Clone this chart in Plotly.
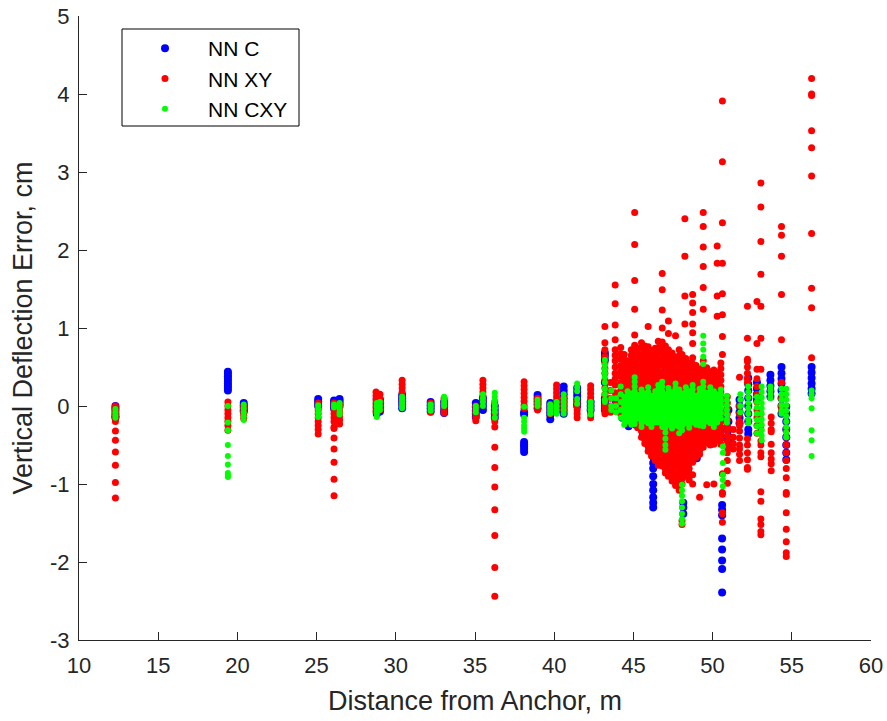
import plotly.graph_objects as go

# ---- data: (distance, [vertical deflection errors]) per measurement column ----
NN_C = [
    (12.3, [0.0, -0.03, -0.06, -0.1, -0.13, -0.15]),
    (19.4, [0.44, 0.41, 0.38, 0.35, 0.32, 0.29, 0.26, 0.23, 0.2]),
    (20.4, [0.04, 0.01, -0.02, -0.05, -0.07]),
    (25.1, [0.09, 0.06, 0.03, 0.0]),
    (26.1, [0.07, 0.04, 0.0, -0.03]),
    (26.45, [0.09, 0.06, 0.03, 0.0]),
    (28.8, [0.1, 0.05, 0.0, -0.05, -0.1]),
    (29.0, [0.08, 0.03, -0.02, -0.07]),
    (30.4, [0.14, 0.1, 0.06, 0.02, -0.03]),
    (32.2, [0.05, 0.01, -0.03, -0.07]),
    (33.05, [0.05, 0.0, -0.05, -0.09]),
    (35.05, [0.04, -0.01, -0.06, -0.1, -0.14]),
    (35.5, [0.1, 0.05, 0.0, -0.05]),
    (36.25, [0.0, -0.05, -0.1, -0.15]),
    (38.1, [-0.08, -0.11, -0.46, -0.49, -0.52, -0.55, -0.59]),
    (38.95, [0.14, 0.1, 0.06, 0.02, -0.03]),
    (39.75, [0.04, 0.0, -0.04, -0.08, -0.12, -0.17]),
    (40.6, [0.25, 0.2, 0.15, 0.1, 0.05, 0.0, -0.05, -0.1]),
    (41.45, [0.23, 0.18, 0.13, 0.08, 0.03, 0.0]),
    (42.3, [0.05, 0.0, -0.05]),
    (43.2, [0.68, 0.64, 0.59, 0.3, 0.1, 0.05, 0.0, -0.05]),
    (43.9, [0.05, 0.0, -0.06]),
    (44.3, [0.08, 0.0, -0.08, -0.15]),
    (44.7, [0.14, 0.04, -0.07, -0.17, -0.26]),
    (45.15, [0.22, 0.09, -0.02, -0.13, -0.24]),
    (45.6, [0.11, -0.01, -0.12, -0.23, -0.31, -0.37]),
    (46.0, [0.08, -0.06, -0.19, -0.33, -0.42]),
    (46.25, [-0.1, -0.3, -0.65, -0.73, -0.8, -0.9, -1.0, -1.08, -1.17, -1.24, -1.3]),
    (46.7, [0.13, -0.02, -0.16, -0.29, -0.4]),
    (47.2, [0.19, 0.04, -0.11, -0.24, -0.37]),
    (47.7, [0.09, -0.06, -0.19, -0.31]),
    (48.15, [0.0, -0.2, -0.35, -1.24, -1.3, -1.38]),
    (48.6, [0.1, -0.1, -0.25]),
    (49.0, [0.15, 0.0, -0.2, -0.4, -0.6, -0.67]),
    (49.5, [0.1, -0.05, -0.2, -0.3]),
    (50.0, [0.1, -0.05, -0.2, -0.35]),
    (50.6, [-0.15, -0.3, -0.4, -1.27, -1.33, -1.4, -1.7, -1.84, -1.98, -2.09, -2.39]),
    (51.0, [-0.05, -0.2, -0.3, -0.39, -0.45, -0.53]),
    (51.7, [0.08, 0.0, -0.08, -0.15, -0.22]),
    (52.25, [0.36, 0.28, 0.2, 0.1, 0.0, -0.1, -0.2, -0.3, -0.36]),
    (52.8, [0.3, 0.22, 0.15, 0.08]),
    (53.65, [0.4, 0.33, 0.26, 0.19, 0.12]),
    (54.35, [0.5, 0.42, 0.35, 0.29, 0.2, 0.1, 0.0, -0.1]),
    (54.65, [-0.01, -0.1, -0.2, -0.3, -0.4, -0.5, -0.6, -0.69]),
    (56.25, [0.5, 0.43, 0.36, 0.29, 0.22, 0.16]),
]

NN_XY = [
    (12.3, [0.0, -0.05, -0.1, -0.15, -0.2, -0.32, -0.44, -0.59, -0.76, -0.98, -1.18]),
    (19.4, [0.05, 0.0, -0.05, -0.1, -0.15, -0.2, -0.25, -0.31]),
    (20.4, [0.0, -0.04, -0.08, -0.12, -0.16]),
    (25.1, [0.04, 0.0, -0.05, -0.1, -0.15, -0.2, -0.25, -0.3, -0.36]),
    (26.1, [0.04, 0.0, -0.05, -0.1, -0.15, -0.2, -0.27, -0.29, -0.41, -0.55, -0.72, -0.94, -1.15]),
    (26.45, [0.02, -0.03, -0.08, -0.13, -0.18, -0.23]),
    (28.75, [0.18, 0.13, 0.08, 0.03, -0.02, -0.07]),
    (29.0, [0.15, 0.1, 0.05, 0.0, -0.05]),
    (30.4, [0.33, 0.28, 0.23, 0.18, 0.12, 0.07, 0.02]),
    (32.2, [0.04, 0.0, -0.04, -0.08]),
    (33.05, [0.1, 0.05, 0.0, -0.05, -0.09]),
    (35.05, [0.0, -0.05, -0.1, -0.15, -0.19]),
    (35.5, [0.33, 0.28, 0.23, 0.18, 0.13, 0.08]),
    (36.25, [0.05, 0.0, -0.05, -0.1, -0.15, -0.2, -0.27, -0.53, -0.79, -1.04, -1.33, -1.66, -2.07, -2.44]),
    (38.1, [0.31, 0.26, 0.21, 0.16, 0.11, 0.06, 0.01, -0.03]),
    (38.95, [0.1, 0.05, 0.0, -0.05]),
    (39.75, [0.02, -0.02, -0.06, -0.1]),
    (40.15, [0.27, 0.22, 0.17, 0.12, 0.07, 0.02, -0.03, -0.07]),
    (40.6, [0.1, 0.05, 0.0, -0.05]),
    (41.45, [0.05, 0.0, -0.05, -0.1, -0.15]),
    (42.3, [0.26, 0.21, 0.16, 0.11, 0.06, 0.01, -0.04, -0.1, -0.15]),
    (43.2, [1.02, 0.81, 0.72, 0.63, 0.55, 0.48, 0.42, 0.33, 0.23, 0.15, 0.08, 0.0, -0.05, -0.1]),
    (43.55, [0.3, 0.2, 0.1, 0.0, -0.08]),
    (43.85, [1.55, 1.31, 1.04, 0.85, 0.72, 0.65, 0.58, 0.5, 0.42, 0.35, 0.27, 0.17, 0.08, 0.0, -0.05]),
    (44.2, [0.75, 0.67, 0.6, 0.52, 0.45, 0.38, 0.3, 0.2, 0.1, 0.0, -0.1]),
    (44.42, [0.66, 0.59, 0.52, 0.46, 0.38, 0.31, 0.24, 0.17, 0.09, 0.02, -0.05, -0.13]),
    (44.63, [0.58, 0.51, 0.44, 0.37, 0.3, 0.22, 0.15, 0.08, 0.01, -0.07, -0.14, -0.19]),
    (44.87, [0.72, 0.65, 0.58, 0.5, 0.43, 0.35, 0.28, 0.21, 0.13, 0.06, -0.02, -0.09, -0.16, -0.22]),
    (45.08, [2.48, 2.07, 1.61, 1.24, 0.91, 0.78, 0.71, 0.64, 0.56, 0.49, 0.41, 0.34, 0.27, 0.19, 0.11, 0.04,
             -0.04, -0.11, -0.19]),
    (45.27, [0.74, 0.67, 0.6, 0.52, 0.45, 0.37, 0.3, 0.23, 0.15, 0.08, 0.0, -0.08, -0.15, -0.22, -0.28]),
    (45.51, [0.81, 0.74, 0.66, 0.59, 0.51, 0.44, 0.36, 0.29, 0.21, 0.14, 0.06, -0.02, -0.09, -0.17, -0.25,
             -0.32, -0.4]),
    (45.72, [0.77, 0.7, 0.62, 0.55, 0.47, 0.4, 0.32, 0.25, 0.17, 0.1, 0.02, -0.06, -0.13, -0.21, -0.28,
             -0.36, -0.43, -0.48]),
    (45.93, [1.02, 0.76, 0.68, 0.61, 0.53, 0.46, 0.38, 0.31, 0.23, 0.16, 0.08, 0.01, -0.07, -0.14, -0.22,
             -0.3, -0.37, -0.45, -0.52, -0.58]),
    (46.14, [0.71, 0.63, 0.56, 0.48, 0.41, 0.33, 0.26, 0.18, 0.11, 0.03, -0.04, -0.12, -0.2, -0.27, -0.35,
             -0.42, -0.5, -0.57, -0.64]),
    (46.38, [0.74, 0.66, 0.59, 0.51, 0.44, 0.36, 0.29, 0.21, 0.14, 0.06, -0.01, -0.09, -0.16, -0.24, -0.31,
             -0.39, -0.46, -0.54, -0.62, -0.7]),
    (46.57, [0.83, 0.75, 0.68, 0.6, 0.53, 0.45, 0.38, 0.3, 0.23, 0.15, 0.08, 0.0, -0.07, -0.15, -0.22,
             -0.3, -0.38, -0.45, -0.53, -0.6, -0.68, -0.76]),
    (46.82, [1.7, 1.49, 1.23, 1.0, 0.82, 0.74, 0.67, 0.59, 0.52, 0.44, 0.37, 0.29, 0.22, 0.14, 0.07, -0.01,
             -0.08, -0.16, -0.23, -0.31, -0.39, -0.46, -0.54, -0.61, -0.69, -0.77]),
    (47.02, [0.77, 0.7, 0.62, 0.55, 0.47, 0.4, 0.32, 0.25, 0.17, 0.1, 0.02, -0.05, -0.13, -0.2, -0.28,
             -0.36, -0.43, -0.51, -0.58, -0.66, -0.73, -0.81, -0.86]),
    (47.21, [1.09, 0.93, 0.72, 0.65, 0.57, 0.5, 0.42, 0.35, 0.27, 0.2, 0.12, 0.05, -0.03, -0.1, -0.18,
             -0.25, -0.33, -0.41, -0.48, -0.56, -0.63, -0.71, -0.78, -0.85, -0.9]),
    (47.44, [0.68, 0.61, 0.53, 0.46, 0.38, 0.31, 0.23, 0.16, 0.08, 0.01, -0.07, -0.14, -0.22, -0.3, -0.37,
             -0.45, -0.52, -0.6, -0.67, -0.75, -0.83, -0.9, -0.96]),
    (47.66, [0.9, 0.63, 0.56, 0.48, 0.41, 0.33, 0.26, 0.18, 0.11, 0.03, -0.04, -0.12, -0.19, -0.27, -0.35,
             -0.42, -0.5, -0.57, -0.65, -0.73, -0.8, -0.88, -0.95, -1.02]),
    (47.89, [0.72, 0.64, 0.57, 0.49, 0.42, 0.34, 0.27, 0.19, 0.12, 0.04, -0.03, -0.11, -0.18, -0.26, -0.34,
             -0.41, -0.49, -0.56, -0.64, -0.71, -0.79, -0.87, -0.94, -1.01, -1.08]),
    (48.07, [0.66, 0.58, 0.51, 0.43, 0.36, 0.28, 0.21, 0.13, 0.06, -0.02, -0.09, -0.17, -0.25, -0.32, -0.4,
             -0.47, -0.55, -0.62, -0.7, -0.78, -0.85, -0.93, -1.0, -1.47, -1.52]),
    (48.25, [2.4, 1.92, 1.41, 1.05]),
    (48.31, [0.61, 0.53, 0.46, 0.38, 0.31, 0.23, 0.16, 0.08, 0.01, -0.07, -0.14, -0.22, -0.29, -0.37, -0.45,
             -0.52, -0.6, -0.67, -0.75, -0.82, -0.9]),
    (48.52, [0.55, 0.48, 0.4, 0.33, 0.25, 0.18, 0.1, 0.03, -0.05, -0.12, -0.2, -0.27, -0.35, -0.42, -0.5,
             -0.58, -0.65, -0.73, -0.8, -0.87, -0.95]),
    (48.74, [1.43, 1.32, 1.2, 1.05, 0.94, 0.8, 0.62, 0.54, 0.47, 0.39, 0.32, 0.24, 0.17, 0.09, 0.02, -0.06,
             -0.13, -0.21, -0.28, -0.36, -0.44, -0.51, -0.59, -0.66, -0.72, -0.88, -1.0]),
    (48.96, [0.52, 0.45, 0.37, 0.3, 0.22, 0.15, 0.07, 0.0, -0.08, -0.15, -0.23, -0.3, -0.38, -0.45, -0.53,
             -0.6, -0.66]),
    (49.18, [0.47, 0.4, 0.32, 0.25, 0.17, 0.1, 0.02, -0.05, -0.13, -0.2, -0.28, -0.35, -0.43, -0.5, -0.57,
             -0.62, -1.17]),
    (49.41, [2.48, 2.3, 2.04, 1.79, 1.52, 1.24, 0.58, 0.5, 0.43, 0.35, 0.28, 0.2, 0.13, 0.05, -0.02, -0.1,
             -0.17, -0.25, -0.32, -0.4, -0.47, -0.53]),
    (49.63, [0.49, 0.42, 0.34, 0.27, 0.19, 0.12, 0.04, -0.03, -0.11, -0.18, -0.26, -0.33, -0.41, -0.47, -1.01]),
    (49.85, [0.44, 0.37, 0.29, 0.22, 0.14, 0.07, -0.01, -0.08, -0.16, -0.23, -0.31, -0.38, -0.45, -0.5]),
    (50.08, [0.46, 0.39, 0.31, 0.24, 0.16, 0.09, 0.01, -0.06, -0.14, -0.21, -0.29, -0.36, -0.44, -0.49, -1.0]),
    (50.29, [2.05, 1.83, 1.41, 1.15, 0.43, 0.36, 0.28, 0.21, 0.13, 0.06, -0.02, -0.09, -0.17, -0.24, -0.32,
             -0.39, -0.44]),
    (50.52, [0.55, 0.48, 0.4, 0.33, 0.25, 0.18, 0.1, 0.03, -0.05, -0.12, -0.2, -0.27, -0.35, -0.42, -0.49]),
    (50.62, [3.91, 3.13, 2.35, 1.83, 1.44, 1.17, 0.89, 0.66, -0.87, -1.11, -1.13, -1.37, -1.38, -1.49]),
    (50.93, [0.12, 0.04, -0.03, -0.1, -0.18, -0.25, -0.31, -0.38, -0.45, -0.53, -0.6, -0.7, -0.83, -0.99]),
    (51.3, [-0.3, -0.4, -0.48, -0.55]),
    (51.7, [0.37, 0.0, -0.1, -0.2, -0.25, -0.32, -0.41, -0.5, -0.55, -0.62, -0.7]),
    (52.2, [1.28, 0.87, 0.6, 0.57, 0.5, 0.42, 0.35, 0.3, -0.42, -0.5, -0.6, -0.69, -0.79, -0.81]),
    (52.8, [1.34, 0.8, 0.47, 0.35, 0.25, 0.15, 0.05, -0.05, -0.15, -0.25, -0.35]),
    (53.05, [2.86, 2.55, 2.11, 1.69, 1.28, 0.87, 0.47, -0.1, -0.25, -0.3, -0.45, -0.5, -0.6, -0.65, -1.1,
             -1.22, -1.45, -1.52, -1.61, -1.65]),
    (53.7, [-0.14, -0.22, -0.3, -0.33, -0.49, -0.6, -0.68, -0.74, -0.83]),
    (54.35, [2.3, 2.19, 1.92, 1.43, 0.85, 0.3, 0.1, 0.0, -0.05]),
    (54.65, [-0.3, -0.4, -0.5, -0.6, -0.7, -0.8, -0.92, -1.11, -1.13, -1.37, -1.58, -1.74, -1.88, -1.93]),
    (56.25, [4.2, 4.0, 3.98, 3.53, 3.31, 2.95, 2.21, 1.51, 1.26, 0.62]),
]

NN_CXY = [
    (12.3, [-0.04, -0.08, -0.12, -0.15]),
    (19.4, [0.0, -0.21, -0.31, -0.5, -0.64, -0.75, -0.86, -0.89, -0.91]),
    (20.4, [0.02, -0.03, -0.08, -0.13, -0.18]),
    (25.1, [0.01, -0.04, -0.09, -0.14]),
    (26.1, [0.02, -0.02]),
    (26.45, [0.04, 0.0, -0.04, -0.08, -0.11]),
    (28.8, [0.04, -0.01, -0.06, -0.1, -0.14]),
    (29.0, [0.05, 0.0, -0.05]),
    (30.4, [0.12, 0.08, 0.04, 0.0, -0.03]),
    (32.2, [0.02, -0.02, -0.06]),
    (33.05, [0.12, 0.08, 0.04, 0.0]),
    (35.05, [0.0, -0.04, -0.08]),
    (35.5, [0.15, 0.1, 0.05, 0.0]),
    (36.25, [0.17, 0.12, 0.07, 0.02, -0.03, -0.08, -0.15]),
    (38.1, [-0.01, -0.15, -0.2, -0.25, -0.29, -0.33]),
    (38.95, [0.08, 0.04, 0.0]),
    (39.75, [0.02, -0.02, -0.06, -0.1]),
    (40.15, [0.05, 0.0, -0.05, -0.1]),
    (40.6, [0.15, 0.1, 0.05, 0.0, -0.05, -0.1]),
    (41.45, [0.29, 0.24, 0.19, 0.09, 0.03]),
    (42.3, [0.05, 0.0, -0.05, -0.11]),
    (43.2, [0.59, 0.53, 0.47, 0.42, 0.37, 0.3, 0.22, 0.15, 0.08, 0.05]),
    (43.6, [0.2, 0.1, 0.0, -0.05]),
    (43.9, [0.1, 0.0, -0.08]),
    (44.2, [0.25, 0.15, 0.05, -0.05, -0.15]),
    (44.42, [0.12, 0.06, 0.0, -0.06, -0.12, -0.18, -0.24]),
    (44.63, [0.19, 0.13, 0.07, 0.01, -0.05, -0.11, -0.17, -0.2]),
    (44.87, [0.16, 0.1, 0.04, -0.02, -0.08, -0.14, -0.2, -0.24]),
    (45.08, [0.37, 0.31, 0.25, 0.19, 0.13, 0.07, 0.01, -0.05, -0.11, -0.17, -0.23]),
    (45.27, [0.14, 0.08, 0.02, -0.04, -0.1, -0.16]),
    (45.51, [0.21, 0.15, 0.09, 0.03, -0.03, -0.09, -0.15, -0.21, -0.27]),
    (45.72, [0.16, 0.1, 0.04, -0.02, -0.08, -0.14, -0.2]),
    (45.93, [0.24, 0.18, 0.12, 0.06, 0.0, -0.06, -0.12, -0.18, -0.22]),
    (46.14, [0.13, 0.07, 0.01, -0.05, -0.11, -0.17, -0.23, -0.27]),
    (46.38, [0.19, 0.13, 0.07, 0.01, -0.05, -0.11, -0.17, -0.21]),
    (46.57, [0.27, 0.21, 0.15, 0.09, 0.03, -0.03, -0.09, -0.15, -0.21]),
    (46.82, [0.31, 0.25, 0.19, 0.13, 0.07, 0.01, -0.05, -0.11, -0.17, -0.23, -0.27]),
    (47.02, [0.14, 0.08, 0.02, -0.04, -0.1, -0.16, -0.22, -0.28, -0.34, -0.42, -0.5, -0.56]),
    (47.21, [0.23, 0.17, 0.11, 0.05, -0.01, -0.07, -0.13, -0.19, -0.24]),
    (47.44, [0.18, 0.12, 0.06, 0.0, -0.06, -0.12, -0.18, -0.24, -0.29]),
    (47.66, [0.29, 0.23, 0.17, 0.11, 0.05, -0.01, -0.07, -0.13, -0.19, -0.25]),
    (47.89, [0.21, 0.15, 0.09, 0.03, -0.03, -0.09, -0.15, -0.21, -0.27, -0.35]),
    (48.07, [0.16, 0.1, 0.04, -0.02, -0.08, -0.14, -0.2, -0.26, -0.31, -1.01, -1.08, -1.15, -1.22, -1.3,
             -1.38, -1.45, -1.51]),
    (48.31, [0.24, 0.18, 0.12, 0.06, 0.0, -0.06, -0.12, -0.18, -0.22]),
    (48.52, [0.19, 0.13, 0.07, 0.01, -0.05, -0.11, -0.17, -0.23, -0.28]),
    (48.74, [0.27, 0.21, 0.15, 0.09, 0.03, -0.03, -0.09, -0.15, -0.21]),
    (48.96, [0.13, 0.07, 0.01, -0.05, -0.11, -0.17, -0.24]),
    (49.18, [0.22, 0.16, 0.1, 0.04, -0.02, -0.08, -0.14, -0.2, -0.25]),
    (49.41, [0.9, 0.8, 0.72, 0.63, 0.54, 0.31, 0.25, 0.19, 0.13, 0.07, 0.01, -0.05, -0.11, -0.17, -0.23,
             -0.26]),
    (49.63, [0.17, 0.11, 0.05, -0.01, -0.07, -0.13, -0.2]),
    (49.85, [0.24, 0.18, 0.12, 0.06, 0.0, -0.06, -0.12, -0.18, -0.22]),
    (50.08, [0.19, 0.13, 0.07, 0.01, -0.05, -0.11, -0.17, -0.23, -0.27]),
    (50.29, [0.15, 0.09, 0.03, -0.03, -0.09, -0.15, -0.21]),
    (50.52, [0.21, 0.15, 0.09, 0.03, -0.03, -0.09, -0.16]),
    (50.65, [-0.52, -0.6, -0.73, -0.88, -0.95, -1.03]),
    (50.9, [0.13, 0.07, 0.01, -0.05, -0.11, -0.17, -0.21]),
    (51.75, [0.15, 0.08, 0.0, -0.08]),
    (52.25, [0.25, 0.18, 0.11, 0.04, -0.03, -0.1, -0.17, -0.22]),
    (52.8, [0.12, 0.05, -0.02, -0.1, -0.18, -0.26, -0.35]),
    (53.1, [0.25, 0.18, 0.11, 0.04, -0.03, -0.1, -0.17, -0.24, -0.31, -0.38, -0.44]),
    (53.65, [0.25, 0.2, 0.15, 0.1]),
    (54.35, [0.22, 0.15, 0.08, 0.01, -0.06, -0.1]),
    (54.65, [0.22, 0.15, 0.08, 0.01, -0.06, -0.13, -0.2, -0.27, -0.34, -0.4]),
    (56.25, [0.2, 0.15, 0.1, -0.03, -0.31, -0.44, -0.64]),
]

X_TICKS = [10, 15, 20, 25, 30, 35, 40, 45, 50, 55, 60]
X_TICK_TEXT = ["10", "15", "20", "25", "30", "35", "40", "45", "50", "55", "60"]
Y_TICKS = [-3, -2, -1, 0, 1, 2, 3, 4, 5]
Y_TICK_TEXT = ["-3", "-2", "-1", "0", "1", "2", "3", "4", "5"]

SERIES = [
    ("NN C", NN_C, "#0000ff", 8),
    ("NN XY", NN_XY, "#ff0000", 7),
    ("NN CXY", NN_CXY, "#00ff00", 6),
]


def flatten(cols):
    xs, ys = [], []
    for x, vals in cols:
        for v in vals:
            xs.append(x)
            ys.append(v)
    return xs, ys


FONT = "Liberation Sans, Arial, Helvetica, sans-serif"
AXCOL = "#262626"

fig = go.Figure()
for i, (name, cols, color, size) in enumerate(SERIES):
    xs, ys = flatten(cols)
    fig.add_trace(go.Scatter(
        x=xs, y=ys, mode="markers", name=name, legendgroup=f"g{i}",
        marker=dict(color=color, size=size, line=dict(width=0)),
    ))

# plot area: left 79, right 871, top 16, bottom 640
L, R, T, B = 79, 16, 16, 81
W, H = 887, 721
pw, ph = W - L - R, H - T - B


def px_to_paper_x(px):
    return (px - L) / pw


def px_to_paper_y(py):
    return (H - B - py) / ph


fig.add_shape(type="rect", xref="paper", yref="paper",
              x0=px_to_paper_x(122), x1=px_to_paper_x(299),
              y0=px_to_paper_y(126), y1=px_to_paper_y(29),
              line=dict(color="#000000", width=1), fillcolor="white", layer="below")

fig.update_layout(
    width=W, height=H,
    margin=dict(l=L, r=R, t=T, b=B),
    paper_bgcolor="white", plot_bgcolor="white",
    font=dict(family=FONT, color=AXCOL),
    showlegend=True,
    legend=dict(
        x=px_to_paper_x(122), y=px_to_paper_y(28), xanchor="left", yanchor="top",
        bgcolor="rgba(0,0,0,0)", borderwidth=0, itemwidth=76,
        font=dict(family=FONT, size=21, color="#000000"),
        tracegroupgap=0,
    ),
    xaxis=dict(
        range=[10, 60], tickvals=X_TICKS, ticktext=X_TICK_TEXT, automargin=False,
        ticks="inside", ticklen=8, tickcolor=AXCOL, tickwidth=1,
        showline=True, linecolor=AXCOL, linewidth=1, mirror=False,
        showgrid=False, zeroline=False,
        tickfont=dict(size=22, color=AXCOL), ticklabelstandoff=6,
        title=dict(text="Distance from Anchor, m", font=dict(size=27, color=AXCOL), standoff=13),
    ),
    yaxis=dict(
        range=[-3, 5], tickvals=Y_TICKS, ticktext=Y_TICK_TEXT, automargin=False,
        ticks="inside", ticklen=8, tickcolor=AXCOL, tickwidth=1,
        showline=True, linecolor=AXCOL, linewidth=1, mirror=False,
        showgrid=False, zeroline=False,
        tickfont=dict(size=22, color=AXCOL), ticklabelstandoff=4,
        title=dict(text="Vertical Deflection Error, cm", font=dict(size=27, color=AXCOL), standoff=9),
    ),
)

fig.write_html("out.html", config={"displayModeBar": False},
               post_script="document.body.style.margin='0px';")
